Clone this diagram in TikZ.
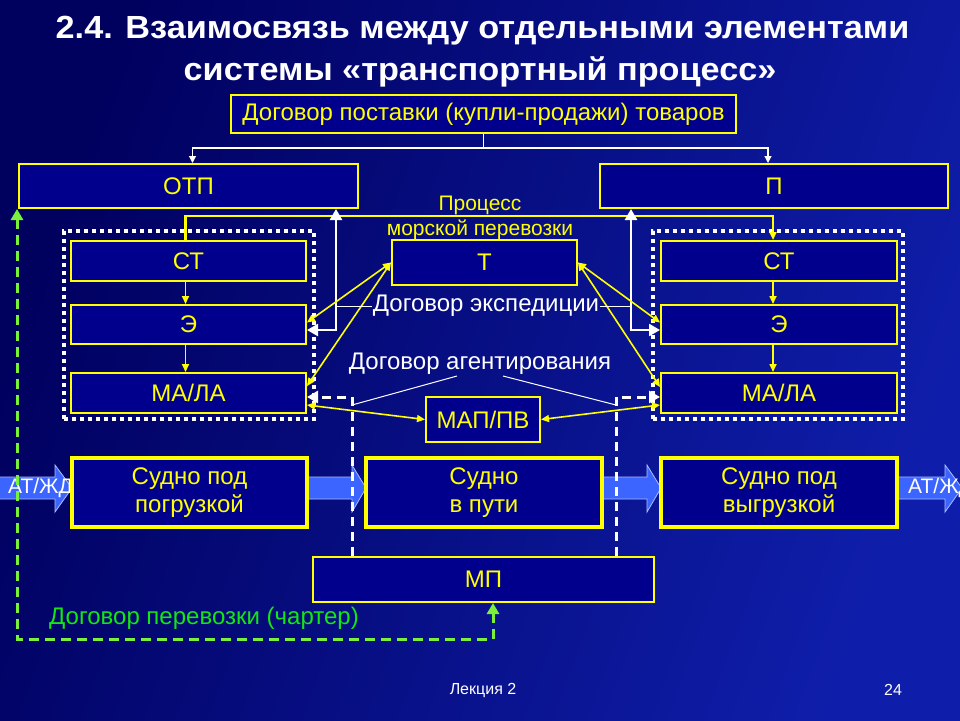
\documentclass[tikz,border=0pt]{standalone}
\usepackage{fontspec}
\setmainfont{Liberation Sans}
\newfontfamily\titlefont{Liberation Sans}[FakeStretch=1.07]
\usetikzlibrary{arrows.meta,calc}
\definecolor{bgA}{RGB}{0,0,95}
\definecolor{bgB}{RGB}{15,30,170}
\definecolor{boxfill}{RGB}{0,0,140}
\definecolor{yel}{RGB}{255,255,0}
\definecolor{grn}{RGB}{20,230,20}
\definecolor{gdash}{RGB}{120,240,60}
\definecolor{blockblue}{RGB}{60,100,255}
\definecolor{blockedge}{RGB}{170,190,255}
\begin{document}
\begin{tikzpicture}[x=1pt,y=-1pt,
  box/.style={draw=yel,line width=2pt,fill=boxfill,text=yel,inner sep=0pt,
    font=\fontsize{24}{28}\selectfont,align=center},
  thickbox/.style={box,line width=4pt},
  grp/.style={draw=white,line width=4pt,dash pattern=on 4pt off 4pt,inner sep=0pt},
  ya/.style={draw=yel,line width=1.6pt,-{Triangle[length=8pt,width=7pt]}},
  yaa/.style={draw=yel,line width=1.6pt,{Triangle[length=8pt,width=7pt]}-{Triangle[length=8pt,width=7pt]}},
  wthin/.style={draw=white,line width=1pt},
  wbig/.style={draw=white,line width=2.5pt,{Triangle[length=11pt,width=12pt]}-{Triangle[length=11pt,width=12pt]}},
  wdash/.style={draw=white,line width=3pt,dash pattern=on 9pt off 6pt,-{Triangle[length=11pt,width=12pt]}},
  gdashed/.style={draw=gdash,line width=3pt,dash pattern=on 10pt off 6pt,{Triangle[length=11pt,width=12pt]}-{Triangle[length=11pt,width=12pt]}},
  blockarrow/.style={fill=blockblue,draw=blockedge,line width=0.8pt},
  lbl/.style={text=white,font=\fontsize{24}{28}\selectfont,inner sep=1pt},
]
\useasboundingbox (0,0) rectangle (960,720);
\clip (0,0) rectangle (960,720);
\shade[left color=bgA,right color=bgB,shading angle=70] (0,0) rectangle (960,720);

% title
\node (title1) at (482.5,38) [anchor=base,text=white,inner sep=0pt,font=\titlefont\bfseries\fontsize{32}{38}\selectfont]
  {2.4. Взаимосвязь между отдельными элементами};
\node (title2) at (480,80) [anchor=base,text=white,inner sep=0pt,font=\titlefont\bfseries\fontsize{32}{38}\selectfont]
  {системы «транспортный процесс»};

% top nodes
\node (top) at (483.5,114) [box,minimum width=505,minimum height=38]
  {Договор поставки (купли-продажи) товаров};
\node (otp) at (188.5,186) [box,minimum width=339,minimum height=44] {ОТП};
\node (p) at (774,186) [box,minimum width=348,minimum height=44] {П};

% groups
\node (gL) at (189,325) [grp,minimum width=250,minimum height=188] {};
\node (gR) at (778,325) [grp,minimum width=250,minimum height=188] {};

\node (stL) at (188.5,261) [box,minimum width=235,minimum height=40] {СТ};
\node (eL) at (188.5,324.5) [box,minimum width=235,minimum height=39] {Э};
\node (mL) at (188.5,393) [box,minimum width=235,minimum height=40] {МА/ЛА};
\node (stR) at (779,261) [box,minimum width=236,minimum height=40] {СТ};
\node (eR) at (779,324.5) [box,minimum width=236,minimum height=39] {Э};
\node (mR) at (779,393) [box,minimum width=236,minimum height=40] {МА/ЛА};

\node (t) at (484.5,262.5) [box,minimum width=185,minimum height=45] {Т};
\node (map) at (483,419.5) [box,minimum width=114,minimum height=45] {МАП/ПВ};

% process labels
\node (proc1) at (480,205) [text=yel,font=\fontsize{21}{24}\selectfont,inner sep=0pt] {Процесс};
\node (proc2) at (480,230) [text=yel,font=\fontsize{21}{24}\selectfont,inner sep=0pt] {морской перевозки};

% top white connector
\coordinate (tb) at (483.5,148);
\draw[draw=white,line width=1.2pt,-{Triangle[length=7pt,width=7pt]}] (top.south) -- (top.south |- tb) -| ([xshift=4pt]otp.north);
\draw[draw=white,line width=1.2pt,-{Triangle[length=7pt,width=7pt]}] (top.south |- tb) -| ([xshift=-6pt]p.north);

% yellow process line
\coordinate (pl) at (480,216);
\draw[ya,line width=2.5pt] ([xshift=-3pt]stL.north) -- ([xshift=-3pt]stL.north |- pl) -- ([xshift=-6pt]stR.north |- pl) -- ([xshift=-6pt]stR.north);

% inner yellow arrows
\draw[ya] ([xshift=-3pt]stL.south) -- ([xshift=-3pt]eL.north);
\draw[ya] ([xshift=-3pt]eL.south) -- ([xshift=-3pt]mL.north);
\draw[ya] ([xshift=-6pt]stR.south) -- ([xshift=-6pt]eR.north);
\draw[ya] ([xshift=-6pt]eR.south) -- ([xshift=-6pt]mR.north);

% white expedition connectors
\coordinate (wl) at (336,330);
\coordinate (wr) at (631,330);
\draw[wbig] (otp.south -| wl) -- (wl) -- (wl -| eL.east);
\draw[wbig] (p.south -| wr) -- (wr) -- (wr -| eR.west);

% yellow double arrows from T
\draw[yaa] (t.west) -- ([yshift=2pt]eL.east);
\draw[yaa] (t.west) -- ([yshift=7pt]mL.east);
\draw[yaa] (t.east) -- ([yshift=2pt]eR.west);
\draw[yaa] (t.east) -- ([yshift=6pt]mR.west);

\node (dexp) at (486,306) [lbl] {Договор экспедиции};
\draw[wthin] (dexp.west) -- (dexp.west -| wl);
\draw[wthin] (dexp.east) -- (dexp.east -| wr);

% agent
\node (dag) at (480,364) [lbl] {Договор агентирования};
\coordinate (dl) at (352,397);
\coordinate (dr) at (616,397);
\coordinate (a1) at (457,376);
\coordinate (a2) at (503,376);
\draw[wthin] (a1) -- ($(dl)+(0,8)$);
\draw[wthin] (a2) -- ($(dr)+(0,8)$);
\draw[yaa] ([yshift=-12pt]mL.east) -- (map.west);
\draw[yaa] (map.east) -- ([yshift=-12pt]mR.west);

% block arrows
\fill[blockarrow] (-2,477) -- (55,477) -- (55,465) -- (72,488) -- (55,512) -- (55,499) -- (-2,499) -- cycle;
\node (atl) at (8,488) [anchor=west,text=white,font=\fontsize{21}{24}\selectfont,inner sep=0pt] {АТ/ЖД};
\fill[blockarrow] (897,477) -- (945,477) -- (945,465) -- (962,488) -- (945,512) -- (945,499) -- (897,499) -- cycle;
\node (atr) at (908,488) [anchor=west,text=white,font=\fontsize{21}{24}\selectfont,inner sep=0pt] {АТ/ЖД};
\fill[blockarrow] (307,477) -- (352,477) -- (352,465) -- (366,488) -- (352,512) -- (352,499) -- (307,499) -- cycle;
\fill[blockarrow] (602,477) -- (647,477) -- (647,465) -- (661,488) -- (647,512) -- (647,499) -- (602,499) -- cycle;

% bottom row
\node (sL) at (189.5,492.5) [thickbox,minimum width=235,minimum height=69] {Судно под\\погрузкой};
\node (sM) at (484,492.5) [thickbox,minimum width=236,minimum height=69] {Судно\\в пути};
\node (sR) at (779,492.5) [thickbox,minimum width=236,minimum height=69] {Судно под\\выгрузкой};

\node (mp) at (483.5,579.5) [box,minimum width=341,minimum height=45] {МП};

% white dashed connectors
\draw[wdash] (mp.north -| dl) -- (dl) -- (dl -| mL.east);
\draw[wdash] (mp.north -| dr) -- (dr) -- (dr -| mR.west);

% green charter
\coordinate (g1) at (18,639);
\draw[gdashed] ([xshift=-1pt]otp.south west) -- ([xshift=-1pt]otp.south west |- g1) -| ([xshift=9.5pt]mp.south);
\node (charter) at (204,618) [text=grn,font=\fontsize{24}{28}\selectfont,inner sep=0pt] {Договор перевозки (чартер)};

% footer
\node (lec) at (483,690) [text=white,font=\fontsize{16}{19}\selectfont] {Лекция 2};
\node (pg) at (893,690) [text=white,font=\fontsize{16}{19}\selectfont] {24};
\end{tikzpicture}
\end{document}
